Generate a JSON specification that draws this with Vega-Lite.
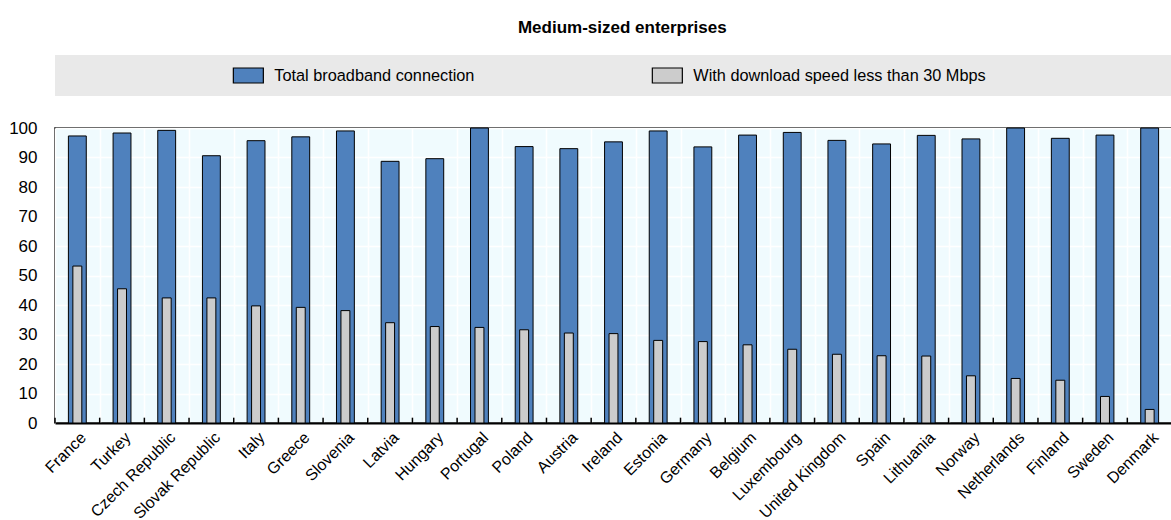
{
  "$schema": "https://vega.github.io/schema/vega-lite/v6.json",
  "padding": {"left": 7, "top": 19, "right": 0, "bottom": 0},
  "autosize": {"type": "pad"},
  "background": "#ffffff",
  "bounds": "flush",
  "spacing": 32,
  "title": {
    "text": "Medium-sized enterprises",
    "anchor": "middle",
    "font": "Liberation Sans, Arial",
    "fontSize": 17,
    "fontWeight": "bold",
    "color": "#000000",
    "offset": 18,
    "dx": 32
  },
  "config": {
    "font": "Liberation Sans, Arial",
    "axis": {"labelFont": "Liberation Sans, Arial", "labelColor": "#000000"}
  },
  "vconcat": [
    {
      "width": 1117,
      "height": 41,
      "view": {"fill": "#E9E9E9", "stroke": null},
      "data": {"values": [
        {"series": "Total broadband connection"},
        {"series": "With download speed less than 30 Mbps"}
      ]},
      "encoding": {
        "x": {"field": "series", "type": "nominal", "sort": null, "axis": null,
              "scale": {"type": "point", "padding": 0.833, "align": 0.277}}
      },
      "layer": [
        {
          "mark": {"type": "point", "shape": "M-1,-0.5H1V0.5H-1Z", "size": 900, "filled": true, "opacity": 1, "stroke": "#000000", "strokeWidth": 1.2},
          "encoding": {
            "fill": {"field": "series", "type": "nominal", "legend": null,
                     "scale": {"domain": ["Total broadband connection", "With download speed less than 30 Mbps"], "range": ["#4F81BD", "#CCCCCC"]}}
          }
        },
        {
          "mark": {"type": "text", "align": "left", "baseline": "middle", "dx": 26, "fontSize": 16.3, "color": "#000000"},
          "encoding": {"text": {"field": "series"}}
        }
      ]
    },
    {
      "width": 1117,
      "height": 295,
      "view": {"fill": "#F0FBFE", "stroke": "#000000", "strokeWidth": 1.5},
      "data": {"values": [
        {"country": "France", "total": 97.3, "slow": 53.2},
        {"country": "Turkey", "total": 98.3, "slow": 45.5},
        {"country": "Czech Republic", "total": 99.2, "slow": 42.4},
        {"country": "Slovak Republic", "total": 90.6, "slow": 42.4},
        {"country": "Italy", "total": 95.7, "slow": 39.7},
        {"country": "Greece", "total": 97.0, "slow": 39.2},
        {"country": "Slovenia", "total": 99.0, "slow": 38.1},
        {"country": "Latvia", "total": 88.7, "slow": 34.0},
        {"country": "Hungary", "total": 89.6, "slow": 32.7},
        {"country": "Portugal", "total": 100, "slow": 32.4},
        {"country": "Poland", "total": 93.7, "slow": 31.6},
        {"country": "Austria", "total": 93.0, "slow": 30.5},
        {"country": "Ireland", "total": 95.3, "slow": 30.3},
        {"country": "Estonia", "total": 99.0, "slow": 28.0},
        {"country": "Germany", "total": 93.6, "slow": 27.6},
        {"country": "Belgium", "total": 97.6, "slow": 26.5},
        {"country": "Luxembourg", "total": 98.5, "slow": 25.0},
        {"country": "United Kingdom", "total": 95.8, "slow": 23.3},
        {"country": "Spain", "total": 94.6, "slow": 22.8},
        {"country": "Lithuania", "total": 97.5, "slow": 22.7},
        {"country": "Norway", "total": 96.3, "slow": 16.0},
        {"country": "Netherlands", "total": 100, "slow": 15.1},
        {"country": "Finland", "total": 96.5, "slow": 14.5},
        {"country": "Sweden", "total": 97.6, "slow": 9.0},
        {"country": "Denmark", "total": 100, "slow": 4.6}
      ]},
      "encoding": {
        "x": {
          "field": "country", "type": "nominal", "sort": null,
          "scale": {"paddingInner": 0, "paddingOuter": 0},
          "axis": {
            "title": null,
            "labelAngle": -45,
            "labelFontSize": 16,
            "labelPadding": 6,
            "labelColor": "#000000",
            "domainColor": "#000000",
            "domainWidth": 2,
            "ticks": false,
            "tickBand": "extent",
            "grid": true,
            "gridColor": "#FFFFFF",
            "gridWidth": 1.5,
            "gridOpacity": 1
          }
        },
        "y": {
          "type": "quantitative",
          "scale": {"domain": [0, 100], "nice": false},
          "axis": {
            "title": null,
            "values": [0, 10, 20, 30, 40, 50, 60, 70, 80, 90, 100],
            "tickCount": 11,
            "labelFontSize": 17,
            "labelPadding": 18,
            "labelOverlap": false,
            "labelColor": "#000000",
            "domain": false,
            "ticks": false,
            "tickSize": 0,
            "grid": true,
            "gridColor": "#FFFFFF",
            "gridWidth": 1.5,
            "gridOpacity": 1
          }
        }
      },
      "layer": [
        {
          "mark": {"type": "bar", "width": {"band": 0.4}, "fill": "#4F81BD", "stroke": "#000000", "strokeWidth": 1},
          "encoding": {
            "y": {
              "field": "total", "type": "quantitative",
              "scale": {"domain": [0, 100], "nice": false},
              "axis": {
                "title": null,
                "values": [0, 10, 20, 30, 40, 50, 60, 70, 80, 90, 100],
                "tickCount": 11,
                "labelFontSize": 17,
                "labelPadding": 18,
                "labelOverlap": false,
                "labelColor": "#000000",
                "domain": false,
                "ticks": false,
                "tickSize": 0,
                "grid": true,
                "gridColor": "#FFFFFF",
                "gridWidth": 1.5,
                "gridOpacity": 1
              }
            }
          }
        },
        {
          "mark": {"type": "bar", "width": {"band": 0.2}, "fill": "#CCCCCC", "stroke": "#000000", "strokeWidth": 1},
          "encoding": {
            "y": {
              "field": "slow", "type": "quantitative",
              "scale": {"domain": [0, 100], "nice": false},
              "axis": {
                "title": null,
                "values": [0, 10, 20, 30, 40, 50, 60, 70, 80, 90, 100],
                "tickCount": 11,
                "labelFontSize": 17,
                "labelPadding": 18,
                "labelOverlap": false,
                "labelColor": "#000000",
                "domain": false,
                "ticks": false,
                "tickSize": 0,
                "grid": true,
                "gridColor": "#FFFFFF",
                "gridWidth": 1.5,
                "gridOpacity": 1
              }
            }
          }
        },
        {
          "mark": {"type": "rule", "color": "#000000", "strokeWidth": 1.5},
          "encoding": {
            "x": {"field": "country", "type": "nominal", "sort": null, "bandPosition": 0},
            "y": {"datum": 0},
            "y2": {"datum": 1.8}
          }
        }
      ]
    }
  ]
}
